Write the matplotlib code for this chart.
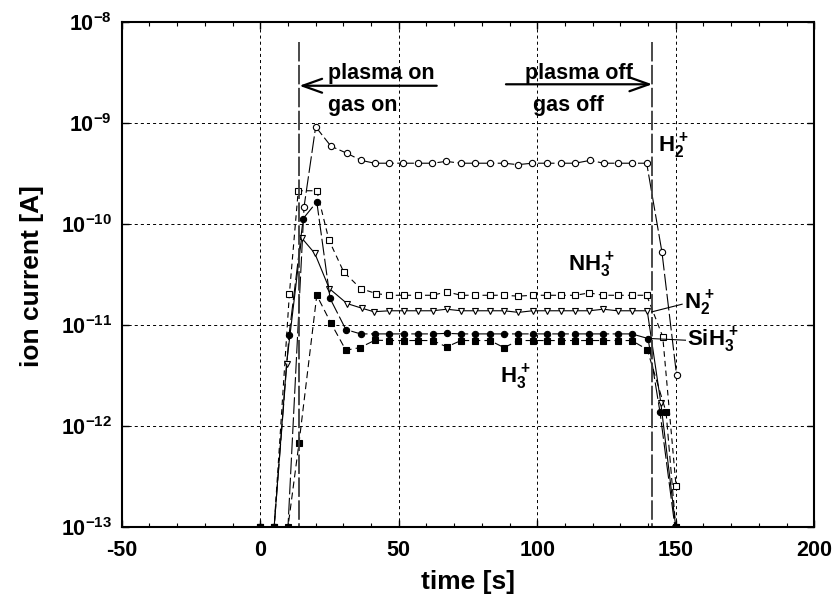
import matplotlib
matplotlib.use('Agg')
import matplotlib.pyplot as plt
from matplotlib.ticker import FixedLocator, MultipleLocator, NullLocator, FixedFormatter

plt.rcParams['font.family'] = ['Liberation Sans', 'DejaVu Sans']
plt.rcParams['font.weight'] = 'bold'
plt.rcParams['mathtext.fontset'] = 'custom'
plt.rcParams['mathtext.rm'] = 'Liberation Sans:bold'
plt.rcParams['mathtext.it'] = 'Liberation Sans:bold'
plt.rcParams['mathtext.bf'] = 'Liberation Sans:bold'
plt.rcParams['mathtext.sf'] = 'Liberation Sans:bold'
plt.rcParams['lines.scale_dashes'] = False

# ---------------- data ----------------
t_h2 = [0, 5, 10, 15.8, 20.0, 25.5, 31.3, 36.4, 41.3, 46.5, 51.6, 56.8, 62.1, 67.1, 72.5,
        77.5, 82.8, 88.0, 93.0, 98.2, 103.4, 108.6, 113.7, 119.1, 124.0, 129.2, 134.3, 139.5,
        145.0, 150.3]
i_h2 = [1e-13, 1e-13, 1e-13, 1.49e-10, 9.25e-10, 5.95e-10, 5.05e-10, 4.3e-10, 4.03e-10,
        4.03e-10, 4.03e-10, 4.03e-10, 4.03e-10, 4.2e-10, 4.03e-10, 4.03e-10, 4.03e-10,
        4.03e-10, 3.9e-10, 4.03e-10, 4.03e-10, 4.03e-10, 4.03e-10, 4.3e-10, 4.03e-10,
        4.03e-10, 4.03e-10, 4.03e-10, 5.33e-11, 3.19e-12]

t_nh3 = [0, 5, 10.5, 13.7, 20.4, 24.8, 30.1, 36.2, 41.8, 46.6, 51.9, 57.0, 62.2, 67.3, 72.5,
         77.6, 82.9, 88.0, 93.2, 98.3, 103.6, 108.7, 113.7, 118.8, 123.8, 129.0, 134.1, 139.5,
         145.3, 150.1]
i_nh3 = [1e-13, 1e-13, 2.03e-11, 2.15e-10, 2.15e-10, 6.97e-11, 3.38e-11, 2.31e-11, 2.06e-11,
         1.98e-11, 1.98e-11, 1.98e-11, 1.98e-11, 2.14e-11, 1.98e-11, 1.98e-11, 1.98e-11,
         1.98e-11, 1.94e-11, 1.98e-11, 1.98e-11, 1.98e-11, 1.98e-11, 2.09e-11, 1.98e-11,
         1.98e-11, 1.98e-11, 1.98e-11, 7.7e-12, 2.55e-13]

t_n2 = [0, 5, 9.5, 14.9, 19.7, 24.9, 31.3, 36.8, 41.0, 46.6, 51.9, 57.0, 62.2, 67.3, 72.5,
        77.6, 82.9, 88.0, 93.2, 98.3, 103.6, 108.7, 113.7, 118.8, 123.8, 129.0, 134.1, 139.7,
        144.6, 150.0]
i_n2 = [1e-13, 1e-13, 4.17e-12, 7.35e-11, 5.14e-11, 2.31e-11, 1.64e-11, 1.47e-11, 1.36e-11,
        1.39e-11, 1.39e-11, 1.39e-11, 1.39e-11, 1.44e-11, 1.39e-11, 1.39e-11, 1.39e-11,
        1.39e-11, 1.34e-11, 1.39e-11, 1.39e-11, 1.39e-11, 1.39e-11, 1.39e-11, 1.44e-11,
        1.39e-11, 1.39e-11, 1.39e-11, 1.7e-12, 1e-13]

t_sih3 = [0, 5, 10.4, 15.5, 20.4, 25.2, 30.9, 36.2, 41.4, 46.6, 51.9, 57.0, 62.2, 67.3, 72.5,
          77.6, 82.9, 88.0, 93.2, 98.3, 103.6, 108.7, 113.7, 118.8, 123.8, 129.0, 134.1, 140.0,
          144.3, 149.7]
i_sih3 = [1e-13, 1e-13, 8.07e-12, 1.14e-10, 1.67e-10, 1.84e-11, 9.06e-12, 8.2e-12, 8.2e-12,
          8.2e-12, 8.2e-12, 8.2e-12, 8.2e-12, 8.3e-12, 8.2e-12, 8.2e-12, 8.2e-12, 8.2e-12,
          8.2e-12, 8.2e-12, 8.2e-12, 8.2e-12, 8.2e-12, 8.2e-12, 8.2e-12, 8.2e-12, 8.2e-12,
          7.38e-12, 1.38e-12, 1e-13]

t_h3 = [0, 5, 10, 14.0, 20.4, 25.5, 30.9, 36.0, 41.4, 46.6, 51.9, 57.0, 62.2, 67.3, 72.5,
        77.6, 82.9, 88.0, 93.2, 98.3, 103.6, 108.7, 113.7, 118.8, 123.8, 129.0, 134.1, 139.7,
        146.5, 150.0]
i_h3 = [1e-13, 1e-13, 1e-13, 6.87e-13, 1.98e-11, 1.05e-11, 5.65e-12, 6.0e-12, 7.1e-12,
        7.05e-12, 7.05e-12, 7.05e-12, 7.05e-12, 6.1e-12, 7.05e-12, 7.05e-12, 7.05e-12,
        6.0e-12, 7.05e-12, 7.05e-12, 7.05e-12, 7.05e-12, 7.05e-12, 7.05e-12, 7.05e-12,
        7.05e-12, 7.05e-12, 5.74e-12, 1.38e-12, 1e-13]

x_ticks = [-50, 0, 50, 100, 150, 200]
x_tick_labels = ['-50', '0', '50', '100', '150', '200']
y_ticks = [1e-13, 1e-12, 1e-11, 1e-10, 1e-9, 1e-8]
y_tick_labels = [r'$10^{-13}$', r'$10^{-12}$', r'$10^{-11}$', r'$10^{-10}$', r'$10^{-9}$', r'$10^{-8}$']

event_times = [14.1, 141.5]
event_top = 6.4e-9

species_labels = [r'$H_2^+$', r'$NH_3^+$', r'$N_2^+$', r'$SiH_3^+$', r'$H_3^+$']
species_label_t = [143.7, 111.2, 153.0, 154.0, 86.5]
species_label_i = [5.9e-10, 3.95e-11, 1.65e-11, 7.1e-12, 3.05e-12]

# ---------------- figure ----------------
fig = plt.figure(figsize=(8.33, 6.09), dpi=100)
ax = fig.add_axes([0.1462, 0.1346, 0.8313, 0.8285])
ax.set_yscale('log')

ax.grid(True, which='major', color='k', lw=0.7, ls=(0, (2.2, 2.2)))
ax.set_axisbelow(True)

mk = dict(color='k', lw=0.8, ms=4.5, mew=0.8, mec='k')
ax.plot(t_h2, i_h2, marker='o', mfc='white', dashes=(12, 2.5), **mk)
ax.plot(t_nh3, i_nh3, marker='s', mfc='white', dashes=(4, 3), **mk)
ax.plot(t_n2, i_n2, marker='v', mfc='white', ls='-', **mk)
ax.plot(t_sih3, i_sih3, marker='o', mfc='k', dashes=(12, 2.5), **mk)
ax.plot(t_h3, i_h3, marker='s', mfc='k', dashes=(5, 3), **mk)

for te in event_times:
    ax.plot([te, te], [event_top, 1e-13], color='#3a3a3a', lw=1.3, dashes=(14, 2.5))

# arrows
arr = dict(arrowstyle='->,head_length=0.7,head_width=0.25', lw=1.6, color='k',
           shrinkA=0, shrinkB=0, mutation_scale=20)
ax.annotate('', xy=(event_times[0], 2.36e-9), xytext=(63.7, 2.36e-9), arrowprops=arr)
ax.annotate('', xy=(event_times[1], 2.44e-9), xytext=(88.7, 2.44e-9), arrowprops=arr)

tkw = dict(fontsize=15.5, fontweight='bold', ha='left', va='baseline')
ax.text(24.5, 2.73e-9, 'plasma on', **tkw)
ax.text(24.5, 1.32e-9, 'gas on', **tkw)
ax.text(95.7, 2.73e-9, 'plasma off', **tkw)
ax.text(98.3, 1.32e-9, 'gas off', **tkw)

for lab, tt, ii in zip(species_labels, species_label_t, species_label_i):
    ax.text(tt, ii, lab, fontsize=16, ha='left', va='center')

# leader lines
ax.plot([141.3, 152.3], [1.355e-11, 1.615e-11], color='k', lw=0.8)
ax.plot([140.9, 153.5], [7.38e-12, 7.1e-12], color='k', lw=0.8)

ax.set_xlim(-50, 200)
ax.set_ylim(1e-13, 1e-8)
ax.xaxis.set_major_locator(FixedLocator(x_ticks))
ax.xaxis.set_major_formatter(FixedFormatter(x_tick_labels))
ax.xaxis.set_minor_locator(MultipleLocator(10))
ax.yaxis.set_major_locator(FixedLocator(y_ticks))
ax.yaxis.set_major_formatter(FixedFormatter(y_tick_labels))
ax.yaxis.set_minor_locator(NullLocator())

ax.tick_params(which='both', direction='in', top=True, right=True)
ax.tick_params(which='major', length=5, width=1.0, labelsize=15.5)
ax.tick_params(which='minor', length=3, width=0.8)
ax.tick_params(axis='x', which='major', pad=9)
ax.tick_params(axis='y', which='major', pad=7)
for lab in ax.get_xticklabels() + ax.get_yticklabels():
    lab.set_fontweight('bold')

for s in ax.spines.values():
    s.set_linewidth(1.5)

fig.text(468 / 833, 1 - 582 / 609, 'time [s]', fontsize=19, fontweight='bold',
         ha='center', va='center')
fig.text(32 / 833, 1 - 276 / 609, 'ion current [A]', fontsize=19, fontweight='bold',
         ha='center', va='center', rotation=90)

fig.savefig('out.png', dpi=100)
